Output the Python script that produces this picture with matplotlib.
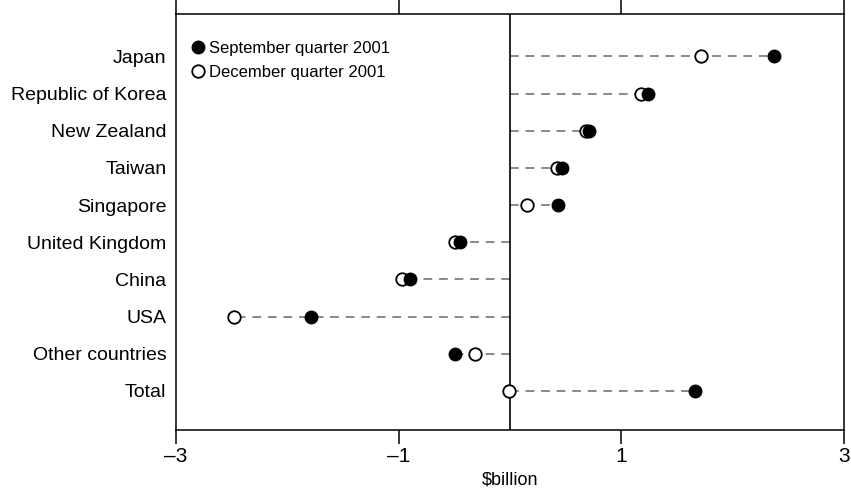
import matplotlib.pyplot as plt
import numpy as np

plt.rcParams["font.family"] = ["Liberation Sans", "DejaVu Sans"]

countries = [
    "Japan",
    "Republic of Korea",
    "New Zealand",
    "Taiwan",
    "Singapore",
    "United Kingdom",
    "China",
    "USA",
    "Other countries",
    "Total",
]
sep_2001 = [2.37, 1.24, 0.71, 0.47, 0.43, -0.45, -0.90, -1.79, -0.49, 1.66]
dec_2001 = [1.72, 1.18, 0.68, 0.42, 0.15, -0.49, -0.97, -2.48, -0.31, -0.01]
x_ticks = [-3, -1, 1, 3]

fig = plt.figure(figsize=(8.51, 4.92), dpi=100)
ax = fig.add_axes([176 / 851, 1 - 430 / 492, 668 / 851, 416 / 492])

y = np.arange(len(countries))
sep = np.array(sep_2001)
dec = np.array(dec_2001)

# dashed connector from zero to the furthest point of each row
for yi, s, d in zip(y, sep, dec):
    far = s if abs(s) > abs(d) else d
    ax.plot([0, far], [yi, yi], color="#888888", lw=1.4, ls=(0, (4.5, 3.5)), zorder=1)

ax.axvline(0, color="black", lw=1.2, zorder=2)

ax.plot(sep, y, "o", color="black", ms=9, zorder=4, label="September quarter 2001")
ax.plot(dec, y, "o", mfc="white", mec="black", mew=1.3, ms=9, zorder=3,
        label="December quarter 2001")

ax.set_xlim(-3, 3)
ax.set_ylim(len(countries) - 1 + 1.05, -1.14)
ax.set_yticks(y)
ax.set_yticklabels(countries, fontsize=14)
ax.tick_params(axis="y", length=0, pad=7)

ax.set_xticks(x_ticks)
ax.set_xticklabels([f"{t}".replace("-", "\u2013") for t in x_ticks], fontsize=15)
ax.tick_params(axis="x", direction="out", length=10, width=1.1, top=True,
               labeltop=False, pad=2)
ax.set_xlabel("\\$billion", fontsize=13, labelpad=4)

for sp in ax.spines.values():
    sp.set_linewidth(1.1)

ax.legend(loc="upper left", frameon=False, fontsize=12, handlelength=0.6,
          handletextpad=0.4, labelspacing=0.55, borderaxespad=0.6,
          bbox_to_anchor=(0.0, 0.975))

fig.savefig("out.png", dpi=100)
